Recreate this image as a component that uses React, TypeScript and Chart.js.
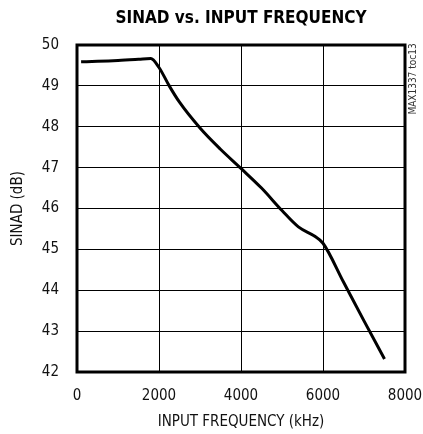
import React, { useEffect, useRef } from "react";
import { Chart, registerables } from "chart.js";

Chart.register(...registerables);

const frequencies = [100, 500, 1000, 1500, 1800, 2000, 2250, 2500, 3000, 3500, 4000, 4500, 5000, 5400, 5800, 6000, 6500, 7000, 7500];
const sinad = [49.59, 49.6, 49.62, 49.65, 49.67, 49.45, 49.0, 48.6, 47.97, 47.45, 46.98, 46.5, 45.95, 45.55, 45.32, 45.15, 44.2, 43.25, 42.32];
const titleText = "SINAD vs. INPUT FREQUENCY";
const xTitle = "INPUT FREQUENCY (kHz)";
const yTitle = "SINAD (dB)";
const sideNote = "MAX1337 toc13";

const NARROW = "'DejaVu Sans Condensed', 'Liberation Sans', sans-serif";

const decor = {
  id: "decor",
  afterDatasetsDraw(chart: any) {
    const { ctx, chartArea } = chart;
    const { left, right, top, bottom } = chartArea;
    ctx.save();
    ctx.strokeStyle = "#000";
    ctx.lineWidth = 3;
    ctx.strokeRect(left, top, right - left, bottom - top);
    ctx.fillStyle = "#000";
    ctx.font = `bold 17px ${NARROW}`;
    ctx.textAlign = "center";
    ctx.textBaseline = "middle";
    ctx.fillText(titleText, 241, 19);
    ctx.translate(413, 79);
    ctx.rotate(-Math.PI / 2);
    ctx.font = `10px ${NARROW}`;
    ctx.fillStyle = "#333";
    ctx.fillText(sideNote, 0, 0);
    ctx.restore();
  },
};

export default function App() {
  const ref = useRef<HTMLCanvasElement>(null);
  useEffect(() => {
    document.body.style.margin = "0";
    const chart = new Chart(ref.current!, {
      type: "line",
      data: {
        datasets: [
          {
            data: frequencies.map((f, i) => ({ x: f, y: sinad[i] })),
            borderColor: "#000",
            borderWidth: 3,
            pointRadius: 0,
            cubicInterpolationMode: "monotone",
            fill: false,
          },
        ],
      },
      options: {
        animation: false,
        responsive: false,
        layout: { padding: { top: 45, right: 18, left: 0, bottom: 0 } },
        plugins: { legend: { display: false }, tooltip: { enabled: false }, title: { display: false } },
        scales: {
          x: {
            type: "linear",
            min: 0,
            max: 8000,
            ticks: { stepSize: 2000, color: "#111", font: { family: NARROW, size: 15 }, padding: 15, callback: (v: any) => String(v) },
            grid: { color: "#000", lineWidth: 1, drawTicks: false },
            border: { display: false },
            title: { display: true, text: xTitle, color: "#111", font: { family: NARROW, size: 15 }, padding: { top: 2, bottom: 3 } },
            afterFit: (s: any) => { s.height = 62; s.paddingRight = 0; s.paddingLeft = 0; },
          },
          y: {
            min: 42,
            max: 50,
            ticks: { stepSize: 1, color: "#111", font: { family: NARROW, size: 15 }, padding: 18, callback: (v: any) => String(v) },
            grid: { color: "#000", lineWidth: 1, drawTicks: false },
            border: { display: false },
            title: { display: true, text: yTitle, color: "#111", font: { family: NARROW, size: 15 }, padding: { top: 9, bottom: 0 } },
            afterFit: (s: any) => { s.width = 77; s.paddingTop = 0; s.paddingBottom = 0; },
          },
        },
      },
      plugins: [decor],
    } as any);
    return () => chart.destroy();
  }, []);
  return (
    <div style={{ width: 423, height: 434 }}>
      <canvas ref={ref} width={423} height={434} />
    </div>
  );
}
